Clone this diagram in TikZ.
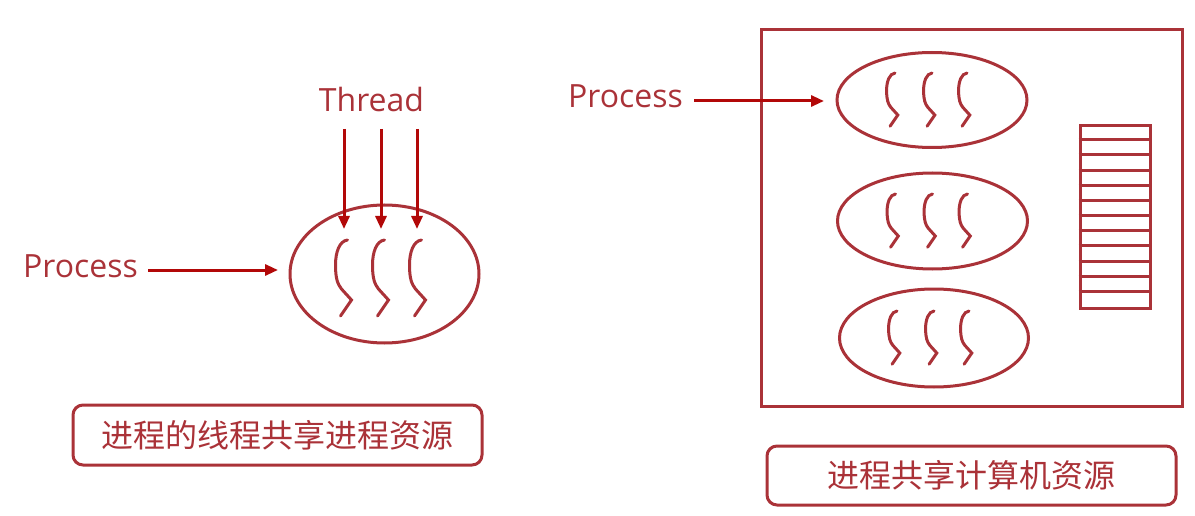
\documentclass[tikz,border=0pt]{standalone}
\usepackage{fontspec}
\setmainfont{Open Sans}
\newfontfamily\cjk{Noto Sans CJK SC}
\usetikzlibrary{shapes.geometric,arrows.meta}
\definecolor{lred}{RGB}{170,50,56}
\definecolor{ared}{RGB}{178,8,8}
\begin{document}
\begin{tikzpicture}[x=1pt,y=-1pt,
  lbl/.style={text=lred,inner sep=0pt,font=\fontsize{32}{38}\selectfont},
  proc/.style={draw=lred,line width=3pt,ellipse,inner sep=0pt},
  arr/.style={draw=ared,line width=3pt,-{Triangle[length=13pt,width=11pt]}},
  threadline/.style={draw=lred,line width=3pt,line cap=round},
  thread/.pic={\draw[threadline] (0,0) .. controls (-8,1) and (-12,12) .. (-12,25)
     .. controls (-12,38) and (-10,44) .. (-6,49) -- (4,60) -- (-7,76);},
  capbox/.style={draw=lred,line width=3pt,rounded corners=10pt,inner sep=0pt,
     text=lred,font=\cjk\fontsize{32}{38}\selectfont},
  frame/.style={draw=lred,line width=3pt}]
\useasboundingbox (0,0) rectangle (1195,516);

% ---------- left part ----------
\node[lbl,anchor=base west] (procL) at (23,277) {Process};
\node[lbl,anchor=base] (thr) at (371.5,112) {Thread};
\node[proc,minimum width=189pt,minimum height=138pt] (ellL) at (384.5,274) {};
\foreach \dx in {-37,0,37}
  \pic at ([xshift=\dx pt,yshift=34pt]ellL.center) {thread};
\coordinate (pLs) at (148,270);
\coordinate (pLe) at (278,270);
\draw[arr] (pLs) -- (pLe);
\foreach \i/\x in {1/344,2/381,3/417}{
  \coordinate (ts\i) at (\x,129);
  \coordinate (te\i) at (\x,229);
  \draw[arr] (ts\i) -- (te\i);
}
\node[capbox,minimum width=409pt,minimum height=60pt] (capL) at (277.5,435) {进程的线程共享进程资源};

% ---------- right part ----------
\node[frame,minimum width=421pt,minimum height=376pt,inner sep=0pt] (comp) at (971.5,218) {};
\node[lbl,anchor=base west] (procR) at (568,108) {Process};
\node[proc,minimum width=190pt,minimum height=95pt] (e1) at (932,100) {};
\node[proc,minimum width=190pt,minimum height=96pt] (e2) at (932.5,221) {};
\node[proc,minimum width=189pt,minimum height=98pt] (e3) at (934,338) {};
\foreach \e in {e1,e2,e3}
  \foreach \dx in {-37,0,35}
    \pic[scale=0.7] at ([xshift=\dx pt,yshift=27pt]\e.center) {thread};
\coordinate (pRs) at (694,101);
\coordinate (pRe) at (824,101);
\draw[arr] (pRs) -- (pRe);
\node[frame,minimum width=70pt,minimum height=182pt,inner sep=0pt] (stack) at (1115,217) {};
\foreach \k in {1,...,11}
  \draw[draw=lred,line width=3pt] ([yshift=-\k*15.17pt]stack.north west) -- ([yshift=-\k*15.17pt]stack.north east);
\node[capbox,minimum width=409pt,minimum height=59pt] (capR) at (971.5,475.5) {进程共享计算机资源};
\end{tikzpicture}
\end{document}
